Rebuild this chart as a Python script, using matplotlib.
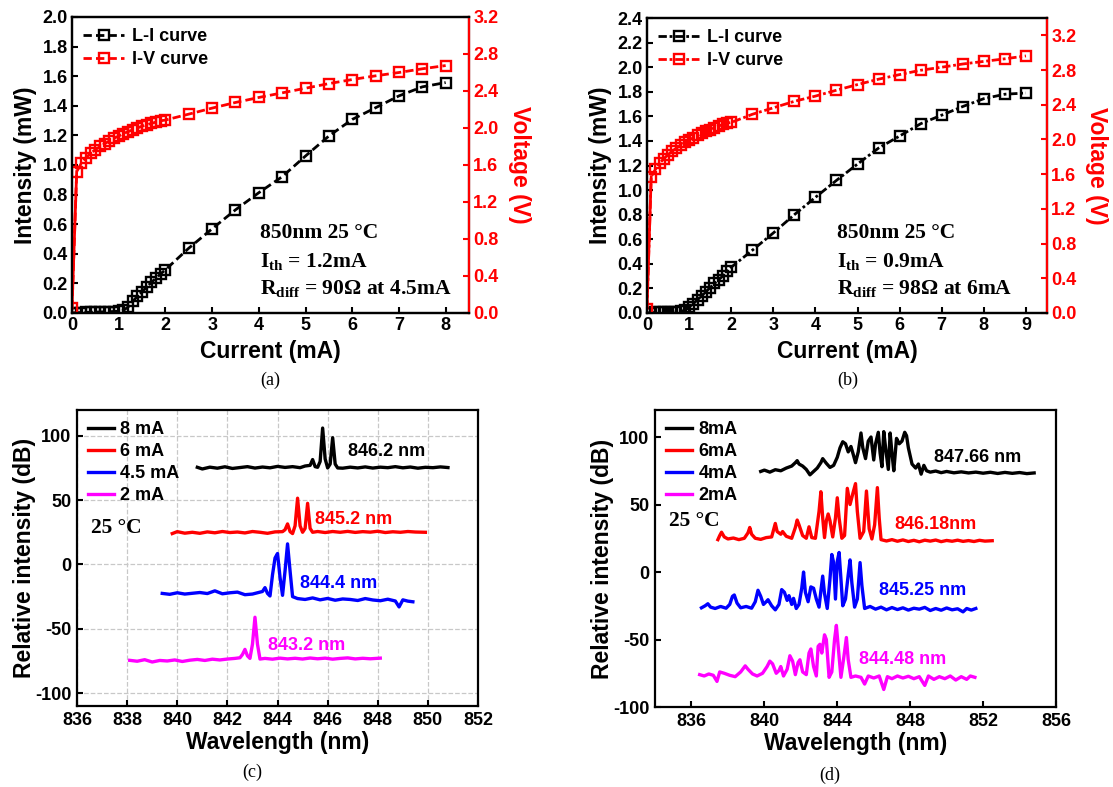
import matplotlib
matplotlib.use('Agg')
import matplotlib.pyplot as plt

# ---------------- data ----------------
# panel (a): 850nm VCSEL, L-I and I-V
cur_a = [0.0, 0.1, 0.2, 0.3, 0.4, 0.5, 0.6, 0.7, 0.8, 0.9, 1.0, 1.1, 1.2, 1.3, 1.4,
         1.5, 1.6, 1.7, 1.8, 1.9, 2.0, 2.5, 3.0, 3.5, 4.0, 4.5, 5.0, 5.5, 6.0, 6.5,
         7.0, 7.5, 8.0]
li_a = [0.0, 0.002, 0.003, 0.004, 0.005, 0.006, 0.007, 0.008, 0.009, 0.010, 0.012,
        0.018, 0.040, 0.079, 0.112, 0.144, 0.175, 0.207, 0.236, 0.265, 0.292,
        0.438, 0.569, 0.697, 0.813, 0.921, 1.061, 1.196, 1.308, 1.387, 1.467,
        1.528, 1.557]
iv_a = [0.05, 1.528, 1.618, 1.68, 1.726, 1.766, 1.80, 1.83, 1.86, 1.89, 1.913,
        1.94, 1.96, 1.98, 2.0, 2.02, 2.035, 2.05, 2.064, 2.078, 2.086,
        2.15, 2.215, 2.276, 2.33, 2.38, 2.43, 2.48, 2.524, 2.564, 2.60, 2.64, 2.675]

# panel (b)
cur_b = [0.0, 0.1, 0.2, 0.3, 0.4, 0.5, 0.6, 0.7, 0.8, 0.9, 1.0, 1.1, 1.2, 1.3, 1.4,
         1.5, 1.6, 1.7, 1.8, 1.9, 2.0, 2.5, 3.0, 3.5, 4.0, 4.5, 5.0, 5.5, 6.0, 6.5,
         7.0, 7.5, 8.0, 8.5, 9.0]
li_b = [0.0, 0.003, 0.004, 0.005, 0.006, 0.007, 0.008, 0.010, 0.014, 0.022,
        0.049, 0.076, 0.108, 0.141, 0.174, 0.206, 0.24, 0.27, 0.30, 0.34, 0.372,
        0.51, 0.651, 0.80, 0.941, 1.079, 1.212, 1.342, 1.44, 1.54, 1.61, 1.68,
        1.744, 1.78, 1.79]
iv_b = [0.05, 1.571, 1.656, 1.725, 1.78, 1.824, 1.867, 1.90, 1.936, 1.966,
        1.993, 2.02, 2.047, 2.07, 2.093, 2.112, 2.135, 2.154, 2.173, 2.19, 2.196,
        2.29, 2.365, 2.44, 2.50, 2.568, 2.633, 2.695, 2.748, 2.798, 2.833, 2.87,
        2.90, 2.93, 2.963]

# panel (c): spectra (offset, dB)
c8_wl = [840.8, 841.0, 841.3, 841.6, 841.9, 842.2, 842.5, 842.8, 843.1, 843.4,
         843.7, 844.0, 844.3, 844.6, 844.9, 845.1, 845.3, 845.4, 845.5, 845.6,
         845.7, 845.8, 845.9, 846.0, 846.1, 846.2, 846.3, 846.4, 846.6, 846.9,
         847.2, 847.5, 847.8, 848.1, 848.4, 848.7, 849.0, 849.3, 849.6, 849.9,
         850.2, 850.5, 850.8]
c8_db = [75.5, 74.2, 75.6, 74.8, 75.9, 74.6, 75.3, 76.0, 74.9, 75.7,
         75.1, 76.2, 75.4, 76.0, 75.2, 76.5, 77.0, 81.5, 76.0, 75.5,
         80.0, 106.0, 82.0, 75.0, 78.0, 98.5, 78.0, 75.0, 74.8, 75.6,
         75.0, 75.8, 74.9, 75.6, 75.2, 76.0, 75.1, 75.7, 74.8, 75.5,
         75.2, 75.8, 75.3]
c6_wl = [839.8, 840.0, 840.3, 840.6, 840.9, 841.2, 841.5, 841.8, 842.1, 842.4,
         842.7, 843.0, 843.3, 843.6, 843.9, 844.2, 844.3, 844.4, 844.5, 844.6,
         844.7, 844.8, 844.9, 845.0, 845.1, 845.2, 845.3, 845.4, 845.6, 845.9,
         846.2, 846.5, 846.8, 847.1, 847.4, 847.7, 848.0, 848.3, 848.6, 848.9,
         849.2, 849.5, 849.9]
c6_db = [24.0, 25.5, 24.3, 25.0, 24.2, 25.3, 24.6, 25.6, 24.8, 25.2,
         24.5, 25.6, 25.0, 24.2, 25.3, 25.5, 27.0, 31.5, 25.5, 24.0,
         30.0, 51.5, 30.0, 25.0, 28.0, 47.5, 28.0, 25.0, 25.6, 24.8,
         25.6, 25.0, 25.7, 24.9, 25.5, 25.1, 25.8, 24.8, 25.4, 25.0,
         25.6, 25.2, 25.0]
c45_wl = [839.4, 839.7, 840.0, 840.3, 840.6, 840.9, 841.2, 841.5, 841.8, 842.1,
          842.4, 842.7, 843.0, 843.2, 843.4, 843.5, 843.6, 843.7, 843.8, 843.9,
          844.0, 844.1, 844.2, 844.3, 844.4, 844.5, 844.6, 844.8, 845.1, 845.4,
          845.7, 846.0, 846.3, 846.6, 846.9, 847.2, 847.5, 847.8, 848.1, 848.4,
          848.7, 848.85, 849.0, 849.2, 849.4]
c45_db = [-22.5, -23.2, -22.0, -23.0, -22.4, -21.8, -22.6, -20.5, -22.8, -22.0,
          -21.5, -23.5, -23.0, -22.0, -21.0, -18.0, -22.5, -24.5, -8.0, 5.0,
          8.5, -10.0, -24.0, -5.0, 16.0, -5.0, -25.0, -26.5, -27.2, -26.0,
          -27.5, -26.4, -27.8, -26.8, -27.2, -28.0, -26.5, -27.6, -28.2, -27.0,
          -28.4, -33.0, -27.5, -28.5, -29.0]
c2_wl = [838.1, 838.4, 838.7, 839.0, 839.3, 839.6, 839.9, 840.2, 840.5, 840.8,
         841.1, 841.4, 841.7, 842.0, 842.3, 842.5, 842.6, 842.7, 842.8, 842.9,
         843.0, 843.1, 843.2, 843.3, 843.5, 843.8, 844.1, 844.4, 844.7, 845.0,
         845.3, 845.6, 845.9, 846.2, 846.5, 846.8, 847.1, 847.4, 847.7, 848.1]
c2_db = [-74.5, -75.2, -74.0, -75.8, -74.6, -75.0, -74.2, -75.4, -74.4, -73.8,
         -74.6, -73.6, -74.2, -73.5, -73.0, -72.5, -70.0, -66.0, -71.0, -73.0,
         -62.0, -41.0, -62.0, -73.5, -73.0, -73.6, -72.8, -73.4, -72.9, -73.5,
         -72.7, -73.3, -72.8, -73.6, -73.0, -72.6, -73.4, -72.9, -73.3, -72.8]

# panel (d): multimode spectra
d8_wl = [839.8, 840.0, 840.3, 840.6, 840.9, 841.2, 841.5, 841.7, 841.8, 841.9,
         842.1, 842.3, 842.5, 842.7, 842.9, 843.1, 843.2, 843.4, 843.6, 843.8,
         844.0, 844.15, 844.3, 844.45, 844.6, 844.75, 844.9, 845.0, 845.15, 845.3,
         845.4, 845.55, 845.7, 845.85, 846.0, 846.1, 846.25, 846.35, 846.45, 846.55,
         846.65, 846.8, 846.9, 847.0, 847.1, 847.25, 847.4, 847.55, 847.7, 847.8,
         847.9, 848.0, 848.1, 848.3, 848.45, 848.6, 848.75, 848.9, 849.1, 849.4,
         849.7, 850.0, 850.4, 850.8, 851.2, 851.6, 852.0, 852.4, 852.8, 853.2,
         853.6, 854.0, 854.4, 854.8]
d8_db = [74.5, 75.5, 74.0, 75.8, 75.0, 77.0, 78.5, 81.0, 82.5, 80.0,
         78.5, 76.0, 72.0, 74.5, 77.0, 81.0, 84.0, 80.5, 77.5, 79.0,
         85.0, 92.0, 96.5, 95.0, 89.0, 93.0, 86.0, 81.0, 89.0, 103.0,
         92.0, 84.0, 97.0, 100.0, 83.0, 95.0, 103.5, 88.0, 78.0, 104.0,
         92.0, 76.0, 103.0, 88.0, 75.0, 99.0, 95.0, 97.0, 103.5, 101.0,
         92.0, 86.0, 80.0, 77.0, 80.0, 72.5, 79.0, 75.0, 74.0, 74.8,
         73.6, 74.5, 73.5, 74.2, 73.4, 74.0, 73.2, 73.9, 73.0, 73.8,
         73.1, 73.7, 72.9, 73.4]
d6_wl = [837.45, 837.55, 837.65, 837.8, 838.0, 838.3, 838.6, 838.9, 839.1, 839.2,
         839.3, 839.5, 839.8, 840.1, 840.4, 840.5, 840.6, 840.7, 840.9, 841.0,
         841.2, 841.5, 841.7, 841.8, 841.9, 842.1, 842.3, 842.45, 842.6, 842.8,
         843.0, 843.1, 843.2, 843.3, 843.4, 843.5, 843.6, 843.75, 843.9, 844.0,
         844.1, 844.25, 844.4, 844.55, 844.7, 844.85, 845.0, 845.1, 845.25, 845.45,
         845.6, 845.75, 845.9, 846.05, 846.2, 846.3, 846.4, 846.7, 847.0, 847.3,
         847.6, 847.9, 848.2, 848.5, 848.8, 849.1, 849.4, 849.7, 850.0, 850.3,
         850.6, 850.9, 851.2, 851.5, 851.8, 852.1, 852.5]
d6_db = [24.0, 27.0, 29.5, 26.0, 24.5, 25.2, 24.0, 25.0, 29.0, 33.0,
         28.0, 25.0, 24.2, 25.5, 26.0, 31.0, 36.0, 30.0, 28.0, 30.0,
         26.5, 25.0, 33.0, 38.5, 35.0, 27.0, 25.0, 33.5, 25.5, 25.0,
         45.0, 59.5, 40.0, 25.5, 38.0, 43.0, 38.0, 26.0, 40.0, 55.0,
         40.0, 25.0, 27.0, 62.0, 50.0, 58.0, 65.5, 45.0, 25.0, 30.0,
         60.0, 32.0, 24.5, 35.0, 62.5, 40.0, 24.0, 23.0, 24.0, 22.8,
         23.8, 22.6, 23.5, 22.4, 23.6, 22.9, 23.7, 22.5, 23.4, 22.8,
         23.6, 22.7, 23.3, 22.6, 23.5, 22.9, 23.2]
d4_wl = [836.55, 836.75, 836.9, 837.05, 837.3, 837.6, 837.9, 838.1, 838.25, 838.35,
         838.5, 838.7, 839.0, 839.3, 839.5, 839.65, 839.8, 839.95, 840.1, 840.2,
         840.4, 840.6, 840.8, 840.95, 841.1, 841.25, 841.35, 841.5, 841.6, 841.75,
         841.9, 842.05, 842.15, 842.25, 842.4, 842.55, 842.7, 842.85, 843.0, 843.1,
         843.2, 843.3, 843.45, 843.6, 843.7, 843.8, 843.9, 844.0, 844.1, 844.2,
         844.3, 844.45, 844.6, 844.7, 844.8, 844.95, 845.1, 845.25, 845.35, 845.5,
         845.8, 846.1, 846.4, 846.7, 847.0, 847.3, 847.6, 847.9, 848.2, 848.5,
         848.8, 849.1, 849.4, 849.7, 850.0, 850.3, 850.6, 850.9, 851.1, 851.35,
         851.6]
d4_db = [-26.5, -25.0, -23.5, -26.0, -27.0, -25.5, -26.8, -24.0, -18.0, -17.0,
         -23.0, -26.5, -25.5, -26.8, -22.0, -13.5, -18.0, -24.0, -22.0, -20.5,
         -25.0, -28.0, -24.0, -13.0, -15.0, -21.0, -17.5, -24.0, -19.5, -27.0,
         -24.0, -12.0, 0.0, -15.0, -22.0, -11.0, -12.0, -20.0, -26.0, -14.0,
         -3.0, -16.0, -27.0, -5.0, 13.0, 7.0, -20.0, 8.0, 14.5, -5.0,
         -25.0, -20.0, -2.0, 9.0, -8.0, -26.0, -20.0, 7.0, -10.0, -27.0,
         -25.5, -27.5, -26.0, -28.0, -26.3, -27.8, -26.5, -28.2, -26.8, -27.5,
         -26.2, -28.5, -27.0, -28.3, -26.6, -28.0, -27.2, -29.5, -27.0, -28.2,
         -27.0]
d2_wl = [836.45, 836.7, 836.95, 837.2, 837.4, 837.55, 837.8, 838.1, 838.4, 838.7,
         838.95, 839.1, 839.35, 839.6, 839.9, 840.15, 840.3, 840.45, 840.65, 840.8,
         840.9, 841.05, 841.25, 841.4, 841.55, 841.7, 841.85, 841.95, 842.1, 842.3,
         842.45, 842.55, 842.7, 842.85, 842.95, 843.05, 843.15, 843.3, 843.4, 843.55,
         843.7, 843.85, 843.95, 844.05, 844.2, 844.35, 844.5, 844.6, 844.75, 845.0,
         845.3, 845.5, 845.7, 846.0, 846.3, 846.55, 846.75, 847.0, 847.3, 847.6,
         847.9, 848.2, 848.5, 848.8, 849.0, 849.3, 849.6, 849.9, 850.2, 850.5,
         850.8, 851.1, 851.3, 851.55]
d2_db = [-76.0, -77.0, -75.5, -76.5, -81.0, -74.0, -75.0, -76.5, -77.5, -74.0,
         -69.5, -72.0, -75.5, -77.0, -75.0, -70.0, -66.0, -68.0, -75.0, -73.0,
         -70.0, -77.0, -72.0, -62.0, -66.0, -76.0, -67.0, -65.0, -74.0, -76.0,
         -60.0, -57.0, -70.0, -77.0, -55.0, -53.5, -60.0, -46.5, -50.0, -78.0,
         -74.0, -50.0, -39.5, -55.0, -78.0, -64.0, -48.5, -65.0, -78.0, -77.0,
         -78.0, -83.0, -77.0, -78.5, -77.0, -87.0, -77.5, -79.0, -77.0, -78.5,
         -77.2, -79.0, -77.5, -84.0, -77.0, -79.5, -77.5, -79.0, -77.0, -80.0,
         -77.5, -79.5, -77.0, -78.0]

spec_colors = ['black', '#ff0000', '#0000ff', '#ff00ff']
c_labels = ['8 mA', '6 mA', '4.5 mA', '2 mA']
d_labels = ['8mA', '6mA', '4mA', '2mA']
c_peaks = ['846.2 nm', '845.2 nm', '844.4 nm', '843.2 nm']
c_peak_pos = [(846.8, 88), (845.5, 35), (844.9, -15), (843.6, -63)]
d_peaks = ['847.66 nm', '846.18nm', '845.25 nm', '844.48 nm']
d_peak_pos = [(849.3, 85), (847.15, 35), (846.3, -14), (845.2, -65)]

# ---------------- style ----------------
plt.rcParams['font.family'] = 'Liberation Sans'
plt.rcParams['font.weight'] = 'bold'
plt.rcParams['axes.labelweight'] = 'bold'
plt.rcParams['axes.linewidth'] = 1.6
plt.rcParams['axes.unicode_minus'] = False
plt.rcParams['mathtext.fontset'] = 'custom'
plt.rcParams['mathtext.rm'] = 'Liberation Serif:bold'
plt.rcParams['mathtext.bf'] = 'Liberation Serif:bold'
plt.rcParams['xtick.direction'] = 'in'
plt.rcParams['ytick.direction'] = 'in'
SERIF = 'Liberation Serif'
TICK = 13
LABEL = 16.5

fig = plt.figure(figsize=(11.13, 7.87), dpi=100)


def li_iv_panel(rect, cur, li, iv, xmax, xticks, ymax, yticks, vmax, notes, ls):
    ax = fig.add_axes(rect)
    ax2 = ax.twinx()
    l1, = ax.plot(cur, li, color='black', ls=ls, lw=2.0, marker='s', ms=6.5,
                  mfc='none', mew=1.7, label='L-I curve')
    ax2.plot(cur[:2], iv[:2], color='red', lw=2.0)
    l2, = ax2.plot(cur, iv, color='red', ls=ls, lw=2.0, marker='s', ms=6.5,
                   mfc='none', mew=1.7, label='I-V curve')
    ax.set_xlim(0, xmax)
    ax.set_ylim(0, ymax)
    ax2.set_ylim(0, vmax)
    ax.set_xticks(xticks)
    ax.set_yticks(yticks)
    ax.set_yticklabels(['%.1f' % v for v in yticks])
    vt = [0.0, 0.4, 0.8, 1.2, 1.6, 2.0, 2.4, 2.8, 3.2]
    ax2.set_yticks(vt)
    ax2.set_yticklabels(['%.1f' % v for v in vt])
    ax.tick_params(labelsize=TICK, length=4, width=1.5, pad=3)
    ax2.tick_params(labelsize=TICK, length=4, width=1.5, pad=3,
                    colors='red')
    ax2.spines['right'].set_color('red')
    ax.set_xlabel('Current (mA)', fontsize=LABEL, labelpad=4)
    ax.set_ylabel('Intensity (mW)', fontsize=LABEL, labelpad=4)
    ax2.set_ylabel('Voltage (V)', fontsize=LABEL, color='red', rotation=270,
                   labelpad=23)
    ax.legend(handles=[l1, l2], loc='upper left', frameon=False, fontsize=13,
              handlelength=2.3, handletextpad=0.4, labelspacing=0.35,
              borderaxespad=0.2, bbox_to_anchor=(0.0, 1.0))
    for (txt, yf) in zip(notes, [0.253, 0.155, 0.064]):
        ax.text(0.474, yf, txt, transform=ax.transAxes, family=SERIF,
                fontsize=15.5, weight='bold', va='baseline')
    return ax


li_iv_panel([0.0647, 0.6023, 0.3567, 0.3761], cur_a, li_a, iv_a, 8.5,
            range(0, 9), 2.0, [0.2 * i for i in range(11)], 3.2,
            ['850nm 25 \u00b0C', r'I$_{\mathbf{th}}$ = 1.2mA',
             r'R$_{\mathbf{diff}}$ = 90$\Omega$ at 4.5mA'], (0, (3, 1.5)))
li_iv_panel([0.5813, 0.6023, 0.3594, 0.3748], cur_b, li_b, iv_b, 9.5,
            range(0, 10), 2.4, [0.2 * i for i in range(13)], 3.4,
            ['850nm 25 \u00b0C', r'I$_{\mathbf{th}}$ = 0.9mA',
             r'R$_{\mathbf{diff}}$ = 98$\Omega$ at 6mA'], (0, (3, 1, 1, 1)))


def spectrum_panel(rect, series, labels, peaks, peak_pos, xlim, xticks, ylim,
                   grid, temp_y):
    ax = fig.add_axes(rect)
    for (wl, db), col, lab in zip(series, spec_colors, labels):
        ax.plot(wl, db, color=col, lw=2.4, label=lab)
    for txt, (x, y), col in zip(peaks, peak_pos, spec_colors):
        ax.text(x, y, txt, color=col, fontsize=13, weight='bold', va='center')
    ax.set_xlim(*xlim)
    ax.set_ylim(*ylim)
    ax.set_xticks(xticks)
    ax.set_yticks([-100, -50, 0, 50, 100])
    if grid:
        ax.grid(True, ls='--', color='#c8c8c8', lw=0.9)
    ax.tick_params(labelsize=TICK, length=4, width=1.5, pad=4)
    ax.set_xlabel('Wavelength (nm)', fontsize=LABEL, labelpad=2)
    ax.set_ylabel('Relative intensity (dB)', fontsize=LABEL, labelpad=-1)
    ax.legend(loc='upper left', frameon=False, fontsize=13, handlelength=1.45,
              handletextpad=0.35, labelspacing=0.28, borderaxespad=0.2,
              bbox_to_anchor=(0.0, 1.0))
    ax.text(0.035, temp_y, '25 \u00b0C', transform=ax.transAxes, family=SERIF,
            fontsize=15.5, weight='bold', va='center')
    return ax


spectrum_panel([0.0692, 0.1029, 0.3603, 0.3761],
               [(c8_wl, c8_db), (c6_wl, c6_db), (c45_wl, c45_db), (c2_wl, c2_db)],
               c_labels, c_peaks, c_peak_pos, (836, 852), range(836, 853, 2),
               (-110, 120), True, 0.6)
spectrum_panel([0.5885, 0.1016, 0.3603, 0.3774],
               [(d8_wl, d8_db), (d6_wl, d6_db), (d4_wl, d4_db), (d2_wl, d2_db)],
               d_labels, d_peaks, d_peak_pos, (834, 856), range(836, 857, 4),
               (-100, 120), False, 0.628)

for x, y, s in [(0.2426, 0.517, '(a)'), (0.762, 0.517, '(b)'),
                (0.2264, 0.018, '(c)'), (0.7457, 0.015, '(d)')]:
    fig.text(x, y, s, family=SERIF, weight='normal', fontsize=13,
             ha='center', va='center')

fig.savefig('out.png', dpi=100)
